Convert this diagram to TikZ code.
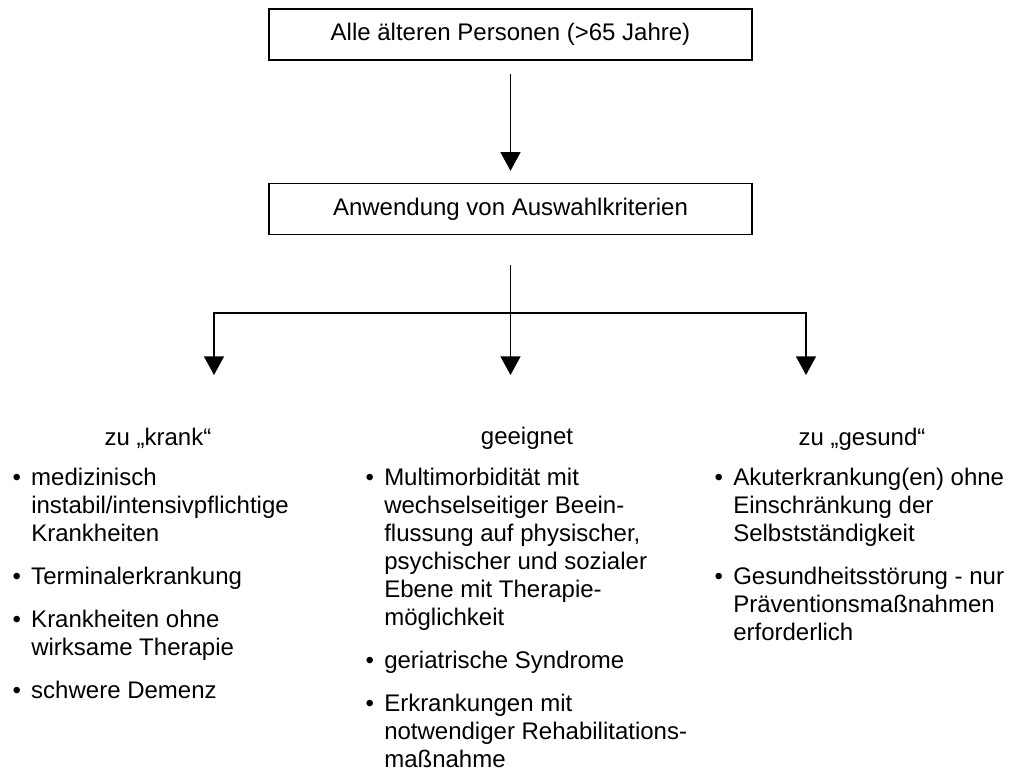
\documentclass[tikz,border=0pt]{standalone}
\usepackage{fontspec}
\setmainfont{Liberation Sans}
\usetikzlibrary{arrows.meta}
\newcommand{\pkt}{\makebox[15pt][l]{\hspace{1pt}•}}

\begin{document}
\begin{tikzpicture}[x=0.75pt, y=-0.75pt,
    every node/.style={font=\fontsize{18}{21}\selectfont, inner sep=0pt},
    kasten/.style={draw, line width=1.1pt, minimum width=362.25pt, minimum height=38.25pt},
    linie/.style={line width=1.1pt},
    pfeil/.style={linie, -{Triangle[length=14pt, width=15pt]}},
    kopf/.style={anchor=base},
    liste/.style={anchor=base west, align=left}]
    \useasboundingbox (0, 0) rectangle (1009, 776);

    \node[kasten] (alle) at (510.5, 34.5) {Alle älteren Personen (>65 Jahre)};
    \node[kasten] (auswahl) at (510.5, 209) {Anwendung von Auswahlkriterien};

    \coordinate (gabel) at (510.5, 313);
    \coordinate (links-ende) at (214, 375);
    \coordinate (mitte-ende) at (510.5, 375);
    \coordinate (rechts-ende) at (806, 375);

    \draw[pfeil, shorten <=9.75pt, shorten >=9pt] (alle) -- (auswahl);
    \draw[linie, shorten <=22.5pt] (auswahl) -- (gabel);
    \draw[pfeil] (gabel) -| (links-ende);
    \draw[pfeil] (gabel) -| (rechts-ende);
    \draw[pfeil] (gabel) -- (mitte-ende);

    % Gruppen
    \node[kopf] (krank) at (158, 445) {zu „krank“};
    \node[kopf] (geeignet) at (527, 444) {geeignet};
    \node[kopf] (gesund) at (862, 445) {zu „gesund“};

    \node[liste] (krank-liste) at (11, 485) {\begin{tabular}[t]{@{}l@{}l@{}}
        \pkt & medizinisch\\
             & instabil/intensivpflichtige\\
             & Krankheiten\\[11.25pt]
        \pkt & Terminalerkrankung\\[11.25pt]
        \pkt & Krankheiten ohne\\
             & wirksame Therapie\\[11.25pt]
        \pkt & schwere Demenz
    \end{tabular}};

    \node[liste] (geeignet-liste) at (364, 485) {\begin{tabular}[t]{@{}l@{}l@{}}
        \pkt & Multimorbidität mit\\
             & wechselseitiger Beein-\\
             & flussung auf physischer,\\
             & psychischer und sozialer\\
             & Ebene mit Therapie-\\
             & möglichkeit\\[11.25pt]
        \pkt & geriatrische Syndrome\\[11.25pt]
        \pkt & Erkrankungen mit\\
             & notwendiger Rehabilitations-\\
             & maßnahme
    \end{tabular}};

    \node[liste] (gesund-liste) at (713, 485) {\begin{tabular}[t]{@{}l@{}l@{}}
        \pkt & Akuterkrankung(en) ohne\\
             & Einschränkung der\\
             & Selbstständigkeit\\[11.25pt]
        \pkt & Gesundheitsstörung - nur\\
             & Präventionsmaßnahmen\\
             & erforderlich
    \end{tabular}};
\end{tikzpicture}
\end{document}
